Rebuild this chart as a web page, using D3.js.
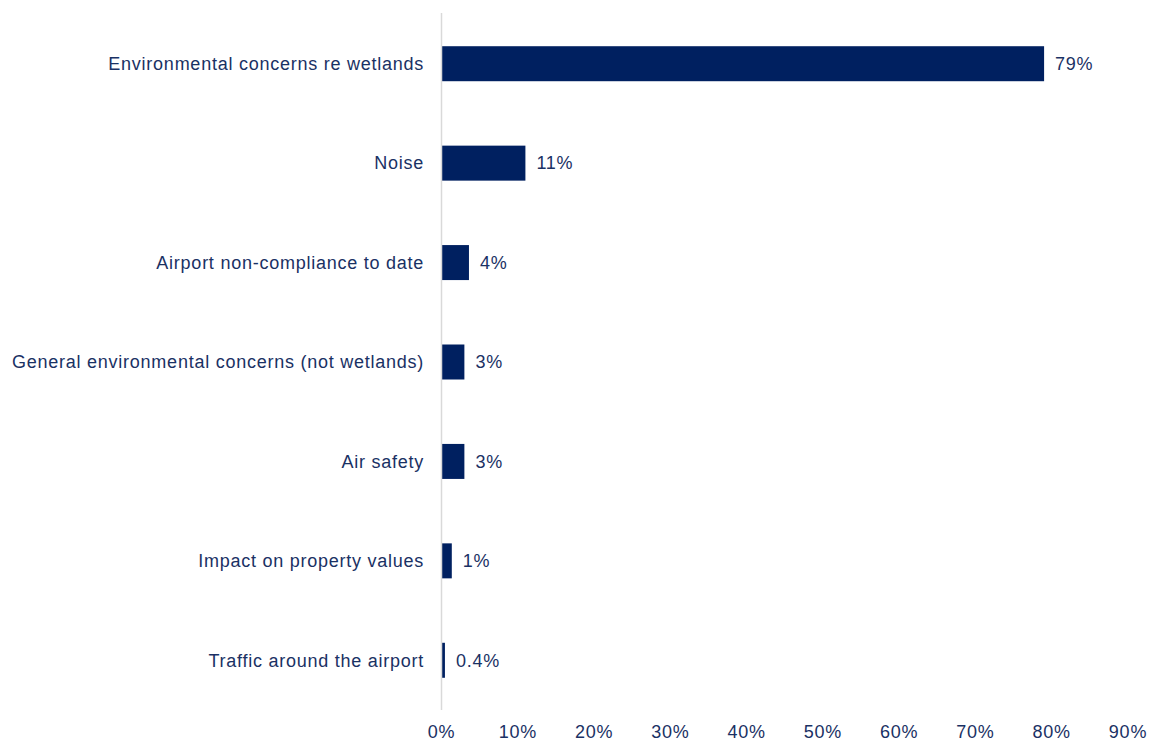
<!DOCTYPE html>
<html><head><meta charset="utf-8">
<script src="https://cdn.jsdelivr.net/npm/d3@7"></script>
<style>body{margin:0;background:#fff;} text{font-family:"Liberation Sans",Arial,sans-serif;letter-spacing:0.75px;}</style>
</head><body><svg id="c" width="1149" height="742"></svg>
<script>
const categories = ["Environmental concerns re wetlands","Noise","Airport non-compliance to date","General environmental concerns (not wetlands)","Air safety","Impact on property values","Traffic around the airport"];
const values = [79, 11, 3.6, 3.0, 3.0, 1.35, 0.45];
const valueLabels = ["79%","11%","4%","3%","3%","1%","0.4%"];
const ticks = [0,10,20,30,40,50,60,70,80,90];

const svg = d3.select("#c");
const x0 = 441.5, x1 = 1128;
const x = d3.scaleLinear().domain([0,90]).range([x0,x1]);
const y = d3.scaleBand().domain(categories).range([14,710]).paddingInner(0.648).paddingOuter(0.324);
const textCol = "#1a3164", barCol = "#002060";

svg.selectAll("rect.bar").data(values).join("rect")
  .attr("x", x(0)).attr("y",(d,i)=>y(categories[i]))
  .attr("width", d=>x(d)-x(0)).attr("height", y.bandwidth())
  .attr("fill", barCol);

svg.append("line").attr("x1",x0).attr("x2",x0).attr("y1",13).attr("y2",710)
  .attr("stroke","#d9d9d9").attr("stroke-width",1.5);

svg.selectAll("text.cat").data(categories).join("text")
  .attr("x", 424).attr("y", d=>y(d)+y.bandwidth()/2).attr("dy","0.35em")
  .attr("text-anchor","end").attr("font-size",18).attr("fill",textCol).text(d=>d);

svg.selectAll("text.val").data(values).join("text")
  .attr("x", d=>x(d)+11).attr("y",(d,i)=>y(categories[i])+y.bandwidth()/2).attr("dy","0.35em")
  .attr("font-size",18).attr("fill",textCol).text((d,i)=>valueLabels[i]);

svg.selectAll("text.tick").data(ticks).join("text")
  .attr("x", d=>x(d)).attr("y",732).attr("dy","0.35em").attr("text-anchor","middle")
  .attr("font-size",18).attr("fill",textCol).text(d=>d+"%");
</script></body></html>
